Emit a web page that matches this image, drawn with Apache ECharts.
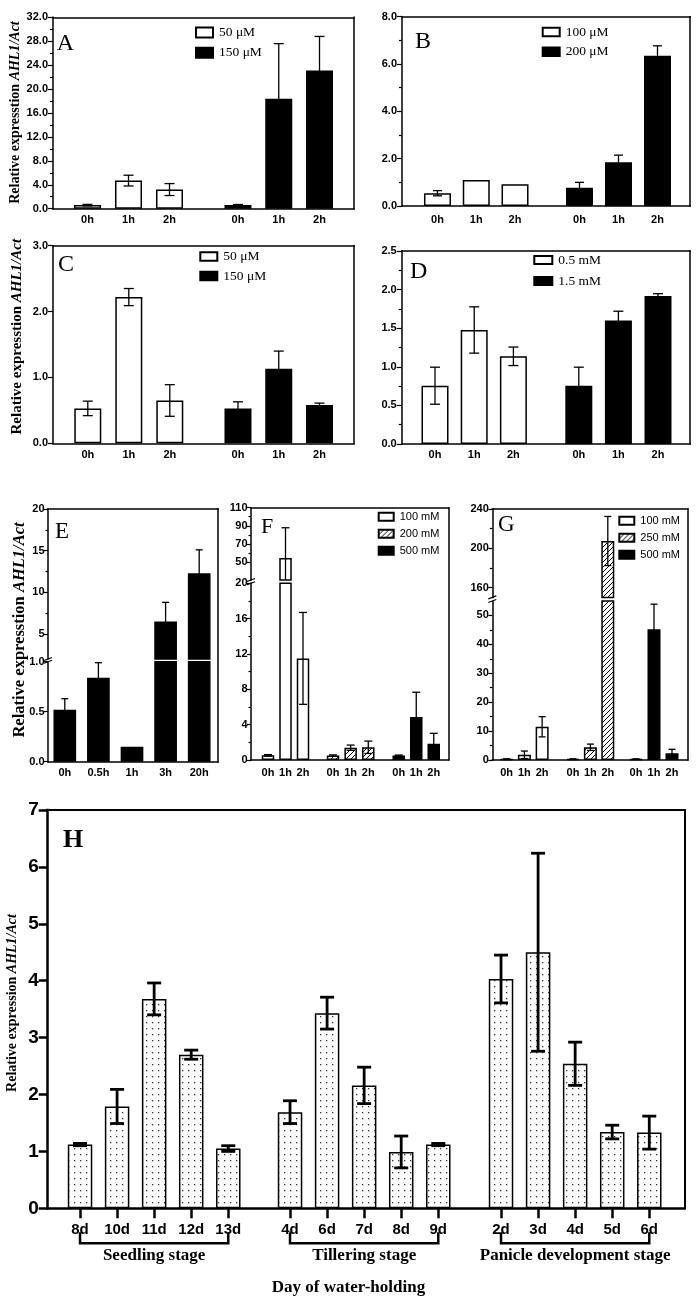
<!DOCTYPE html>
<html><head><meta charset="utf-8">
<script src="https://cdn.jsdelivr.net/npm/echarts@6/dist/echarts.min.js"></script>
<style>html,body{margin:0;padding:0;background:#fff}#c{width:697px;height:1308px}</style>
</head><body><div id="c"></div>
<script>
// ================= DATA =================
const hoursABCD = ['0h', '1h', '2h'];
// Panel A
const aNames = ['50 μM', '150 μM'];
const aMeanLow = [0.6, 4.7, 3.2];
const aSdLow = [0.12, 0.9, 1.0];
const aMeanHigh = [0.6, 18.4, 23.1];
const aSdHigh = [0.1, 9.2, 5.7];
const aTicks = [0, 4, 8, 12, 16, 20, 24, 28, 32];
const aMinorTicks = [2, 6, 10, 14, 18, 22, 26, 30];
// Panel B
const bNames = ['100 μM', '200 μM'];
const bMeanLow = [0.54, 1.1, 0.92];
const bSdLow = [0.11, 0, 0];
const bMeanHigh = [0.77, 1.85, 6.35];
const bSdHigh = [0.23, 0.3, 0.42];
const bTicks = [0, 2, 4, 6, 8];
const bMinorTicks = [1, 3, 5, 7];
// Panel C
const cNames = ['50 μM', '150 μM'];
const cMeanLow = [0.53, 2.22, 0.65];
const cSdLow = [0.11, 0.13, 0.24];
const cMeanHigh = [0.53, 1.13, 0.58];
const cSdHigh = [0.1, 0.27, 0.03];
const cTicks = [0, 1, 2, 3];
// Panel D
const dNames = ['0.5 mM', '1.5 mM'];
const dMeanLow = [0.755, 1.477, 1.136];
const dSdLow = [0.24, 0.3, 0.12];
const dMeanHigh = [0.755, 1.6, 1.917];
const dSdHigh = [0.24, 0.12, 0.03];
const dTicks = [0, 0.5, 1, 1.5, 2, 2.5];
const dMinorTicks = [0.25, 0.75, 1.25, 1.75, 2.25];
// Panel E (broken axis)
const eTimes = ['0h', '0.5h', '1h', '3h', '20h'];
const eMean = [0.52, 0.84, 0.15, 6.5, 12.3];
const eSd = [0.11, 0.15, 0, 2.3, 2.8];
const eTicksLow = [0, 0.5, 1];
const eTicksHigh = [5, 10, 15, 20];
const eMinorHigh = [7.5, 12.5, 17.5];
// Panel F (broken axis)
const fNames = ['100 mM', '200 mM', '500 mM'];
const fMean100 = [0.53, 54.4, 11.5];
const fSd100 = [0.08, 33.4, 5.2];
const fMean200 = [0.5, 1.39, 1.44];
const fSd200 = [0.08, 0.3, 0.7];
const fMean500 = [0.5, 4.87, 1.85];
const fSd500 = [0.06, 2.8, 1.17];
const fTicksLow = [0, 4, 8, 12, 16, 20];
const fMinorLow = [2, 6, 10, 14, 18];
const fTicksHigh = [50, 70, 90, 110];
const fMinorHigh = [60, 80, 100];
// Panel G (broken axis)
const gNames = ['100 mM', '250 mM', '500 mM'];
const gMean100 = [0.3, 1.8, 11.5];
const gSd100 = [0.1, 1.3, 3.5];
const gMean250 = [0.3, 4.4, 207.4];
const gSd250 = [0.1, 1.1, 25];
const gMean500 = [0.3, 45.2, 2.3];
const gSd500 = [0.1, 8.7, 1.4];
const gTicksLow = [0, 10, 20, 30, 40, 50];
const gMinorLow = [5, 15, 25, 35, 45];
const gTicksHigh = [160, 200, 240];
const gMinorHigh = [180, 220];
// Panel H
const hStages = ['Seedling stage', 'Tillering stage', 'Panicle development stage'];
const hDaysSeedling = ['8d', '10d', '11d', '12d', '13d'];
const hDaysTillering = ['4d', '6d', '7d', '8d', '9d'];
const hDaysPanicle = ['2d', '3d', '4d', '5d', '6d'];
const hMeanSeedling = [1.12, 1.79, 3.68, 2.70, 1.05];
const hSdSeedling = [0.02, 0.3, 0.28, 0.08, 0.05];
const hMeanTillering = [1.69, 3.43, 2.16, 0.99, 1.12];
const hSdTillering = [0.2, 0.28, 0.32, 0.28, 0.02];
const hMeanPanicle = [4.03, 4.50, 2.54, 1.34, 1.33];
const hSdPanicle = [0.42, 1.74, 0.38, 0.12, 0.29];
const hTicks = [0, 1, 2, 3, 4, 5, 6, 7];
const hXTitle = 'Day of water-holding';
const yTitleABCE = 'Relative expresstion';
const yTitleH = 'Relative expression';
const yTitleItalic = 'AHL1/Act';

// ================= STYLE HELPERS =================
const SANS = '"Liberation Sans", Arial, sans-serif';
const SERIF = '"Liberation Serif", "Times New Roman", serif';
const WHITE = '#ffffff', BLACK = '#000000';

function makeHatch() {
  const c = document.createElement('canvas'); c.width = 5; c.height = 5;
  const g = c.getContext('2d');
  g.fillStyle = '#fff'; g.fillRect(0, 0, 5, 5);
  g.strokeStyle = '#000'; g.lineWidth = 1;
  g.beginPath();
  g.moveTo(-1, 6); g.lineTo(6, -1);
  g.moveTo(-1, 1); g.lineTo(1, -1);
  g.moveTo(4, 6); g.lineTo(6, 4);
  g.stroke();
  return c;
}
function makeDots() {
  const c = document.createElement('canvas'); c.width = 6; c.height = 6;
  const g = c.getContext('2d');
  g.fillStyle = '#fff'; g.fillRect(0, 0, 6, 6);
  g.fillStyle = '#333'; g.fillRect(2, 2, 1.3, 1.3);
  return c;
}
const HATCH = { image: makeHatch(), repeat: 'repeat' };
const DOTS = { image: makeDots(), repeat: 'repeat' };

const opt = { animation: false, backgroundColor: '#ffffff', grid: [], xAxis: [], yAxis: [], series: [], legend: [], title: [], graphic: { elements: [] } };

function grid(l, t, r, b) {
  opt.grid.push({ left: l, top: t, width: r - l, height: b - t, show: false, containLabel: false, outerBoundsMode: 'none' });
  return opt.grid.length - 1;
}
function axX(o) { opt.xAxis.push(o); return opt.xAxis.length - 1; }
function axY(o) { opt.yAxis.push(o); return opt.yAxis.length - 1; }
const OFF = { axisTick: { show: false }, axisLabel: { show: false }, splitLine: { show: false } };
function lineStyle(w) { return { show: true, onZero: false, lineStyle: { color: '#000', width: w, cap: 'square' } }; }

function frameLines(gi, st) {
  axX(Object.assign({ type: 'value', gridIndex: gi, min: 0, max: 1, position: 'bottom', axisLine: lineStyle(st.axisW) }, OFF));
  axX(Object.assign({ type: 'value', gridIndex: gi, min: 0, max: 1, position: 'top', axisLine: lineStyle(st.frameW) }, OFF));
  axY(Object.assign({ type: 'value', gridIndex: gi, min: 0, max: 1, position: 'right', axisLine: lineStyle(st.frameW) }, OFF));
}

function segAxis(fr, seg, st) {
  const gi = grid(fr[0], seg.t, fr[2], seg.b);
  axX({ type: 'value', gridIndex: gi, min: 0, max: 1, show: false });
  axY({
    type: 'value', gridIndex: gi, min: seg.min, max: seg.max, position: 'left',
    axisLine: lineStyle(st.axisW),
    axisTick: { show: true, length: st.tickLen, customValues: seg.major, lineStyle: { color: '#000', width: st.tickW } },
    axisLabel: { show: true, customValues: seg.major, margin: st.labMargin, formatter: v => Number(v).toFixed(seg.dec),
      color: '#000', fontFamily: SANS, fontWeight: 'bold', fontSize: st.labSize },
    splitLine: { show: false }
  });
  if (seg.minor && seg.minor.length) {
    axY({
      type: 'value', gridIndex: gi, min: seg.min, max: seg.max, position: 'left',
      axisLine: { show: false },
      axisTick: { show: true, length: st.minorLen, customValues: seg.minor, lineStyle: { color: '#000', width: st.tickW } },
      axisLabel: { show: false }, splitLine: { show: false }
    });
  }
}

function errRender(lo, hi, cap, lw) {
  return function (params, api) {
    const i = api.value(0), m = api.value(1), s = api.value(2);
    if (!(s > 0)) return { type: 'group', children: [] };
    const top = m + s, bot = m - s;
    const t = Math.min(top, hi), b = Math.max(bot, lo);
    if (t <= b) return { type: 'group', children: [] };
    const pt = api.coord([i, t]), pb = api.coord([i, b]);
    const sty = { stroke: '#000', lineWidth: lw };
    const ch = [{ type: 'line', shape: { x1: pt[0], y1: pt[1], x2: pb[0], y2: pb[1] }, style: sty }];
    if (top <= hi) ch.push({ type: 'line', shape: { x1: pt[0] - cap, y1: pt[1], x2: pt[0] + cap, y2: pt[1] }, style: sty });
    if (bot >= lo) ch.push({ type: 'line', shape: { x1: pb[0] - cap, y1: pb[1], x2: pb[0] + cap, y2: pb[1] }, style: sty });
    return { type: 'group', children: ch };
  };
}

function dataGroup(seg, g, isBottom, st) {
  const gi = grid(g.l, seg.t, g.r, seg.b);
  const xi = axX({
    type: 'category', gridIndex: gi, data: g.cats, boundaryGap: true,
    axisLine: { show: false },
    axisTick: (isBottom && st.xTick) ? { show: true, alignWithLabel: true, length: st.xTick.len, lineStyle: { color: '#000', width: st.xTick.w } } : { show: false },
    axisLabel: isBottom ? { show: true, interval: 0, margin: st.xLabMargin, color: '#000', fontFamily: SANS, fontWeight: 'bold', fontSize: st.xLabSize } : { show: false },
    splitLine: { show: false }
  });
  const yi = axY({ type: 'value', gridIndex: gi, min: seg.min, max: seg.max, show: false });
  opt.series.push({
    type: 'bar', name: g.name, xAxisIndex: xi, yAxisIndex: yi, data: g.mean, barWidth: st.barW, clip: true, silent: true,
    itemStyle: { color: g.fill, borderColor: '#000', borderWidth: st.barBorder }
  });
  opt.series.push({
    type: 'custom', xAxisIndex: xi, yAxisIndex: yi, data: g.mean.map((m, i) => [i, m, g.sd[i]]),
    renderItem: errRender(seg.min, seg.max, st.cap, st.errW), clip: false, silent: true, z: 3
  });
  if (isBottom && g.stage) {
    axX({ type: 'category', gridIndex: gi, data: [g.stage], position: 'bottom', offset: 31,
      axisLine: { show: false }, axisTick: { show: false }, splitLine: { show: false },
      axisLabel: { show: true, margin: 8, color: '#000', fontFamily: SERIF, fontWeight: 'bold', fontSize: 17 } });
    const last = g.cats.length - 1;
    opt.series.push({
      type: 'custom', xAxisIndex: xi, yAxisIndex: yi, data: [[0, 0]], clip: false, silent: true,
      renderItem: function (params, api) {
        const p0 = api.coord([0, seg.min]), p1 = api.coord([last, seg.min]);
        const y0 = p0[1] + 24, y1 = p0[1] + 35;
        return { type: 'polyline', shape: { points: [[p0[0], y0], [p0[0], y1], [p1[0], y1], [p1[0], y0]] },
          style: { stroke: '#000', lineWidth: 2.5, fill: 'none' } };
      }
    });
  }
}

function yTitle(x, y, size, word) {
  opt.graphic.elements.push({
    type: 'text', x: x, y: y, rotation: Math.PI / 2, z: 100, silent: true,
    style: {
      text: '{b|' + word + ' }{i|' + yTitleItalic + '}',
      rich: { b: { font: 'bold ' + size + 'px ' + SERIF, fill: '#000' }, i: { font: 'italic bold ' + size + 'px ' + SERIF, fill: '#000' } },
      align: 'center', verticalAlign: 'middle', textAlign: 'center', textVerticalAlign: 'middle', fill: '#000'
    }
  });
}
function letter(t, x, y, size, bold) {
  opt.graphic.elements.push({
    type: 'text', x: x, y: y, z: 100, silent: true,
    style: { text: t, font: (bold ? 'bold ' : '') + size + 'px ' + SERIF, fill: '#000', align: 'left', verticalAlign: 'middle', textAlign: 'left', textVerticalAlign: 'middle' }
  });
}
function legend(names, left, top, w, h, gap, font, size) {
  opt.legend.push({
    orient: 'vertical', left: left, top: top, itemWidth: w, itemHeight: h, itemGap: gap, padding: 0, selectedMode: false,
    data: names.map(n => ({ name: n, icon: 'rect' })),
    textStyle: { fontFamily: font, fontSize: size, color: '#000', padding: [0, 0, 0, 1] }
  });
}

function buildPanel(p) {
  const st = p.style, fr = p.frame;
  const fg = grid(fr[0], fr[1], fr[2], fr[3]);
  frameLines(fg, st);
  p.segs.forEach((seg, si) => {
    segAxis(fr, seg, st);
    const isBottom = si === p.segs.length - 1;
    p.groups.forEach(g => dataGroup(seg, g, isBottom, st));
  });
  for (let si = 0; si < p.segs.length - 1; si++) {
    [p.segs[si].b, p.segs[si + 1].t].forEach(y => {
      opt.graphic.elements.push({ type: 'line', z: 100, silent: true,
        shape: { x1: fr[0] - 4, y1: y + 1.5, x2: fr[0] + 4, y2: y - 1.5 }, style: { stroke: '#000', lineWidth: 1.2 } });
    });
  }
}

// ================= LAYOUT =================
const stAD = { axisW: 1.5, frameW: 1.5, tickLen: 5, minorLen: 3, tickW: 1.2, labSize: 11, labMargin: 5, barW: 27, barBorder: 1.5, cap: 5, errW: 1.3, xLabSize: 11, xLabMargin: 6 };
const stE = Object.assign({}, stAD, { tickLen: 4, minorLen: 2.5, labMargin: 3.5, barW: 22.7, cap: 3.5, xLabMargin: 6 });
const stFG = Object.assign({}, stAD, { tickLen: 4, minorLen: 2.5, labMargin: 3.5, barW: 12.5, cap: 4, xLabMargin: 7 });
const stH = { axisW: 2.5, frameW: 2, tickLen: 9, minorLen: 5, tickW: 2.5, labSize: 19, labMargin: 9, barW: 24.5, barBorder: 1.5, cap: 7, errW: 2.8, xLabSize: 15, xLabMargin: 14, xTick: { len: 10, w: 2.5 } };

buildPanel({ style: stAD, frame: [53, 17.3, 354, 208.7],
  segs: [{ t: 17.3, b: 208.7, min: 0, max: 32, major: aTicks, minor: aMinorTicks, dec: 1 }],
  groups: [{ l: 67, r: 190, cats: hoursABCD, name: aNames[0], mean: aMeanLow, sd: aSdLow, fill: WHITE },
           { l: 217.6, r: 339.9, cats: hoursABCD, name: aNames[1], mean: aMeanHigh, sd: aSdHigh, fill: BLACK }] });
buildPanel({ style: Object.assign({}, stAD, { cap: 4.5, xLabMargin: 8 }), frame: [402, 16.7, 690, 206],
  segs: [{ t: 16.7, b: 206, min: 0, max: 8, major: bTicks, minor: bMinorTicks, dec: 1 }],
  groups: [{ l: 418.1, r: 534.4, cats: hoursABCD, name: bNames[0], mean: bMeanLow, sd: bSdLow, fill: WHITE },
           { l: 560, r: 677, cats: hoursABCD, name: bNames[1], mean: bMeanHigh, sd: bSdHigh, fill: BLACK }] });
buildPanel({ style: stAD, frame: [53, 245.7, 354, 443.3],
  segs: [{ t: 245.7, b: 443.3, min: 0, max: 3, major: cTicks, minor: [], dec: 1 }],
  groups: [{ l: 67.3, r: 190.3, cats: hoursABCD, name: cNames[0], mean: cMeanLow, sd: cSdLow, fill: WHITE },
           { l: 217.6, r: 339.9, cats: hoursABCD, name: cNames[1], mean: cMeanHigh, sd: cSdHigh, fill: BLACK }] });
buildPanel({ style: Object.assign({}, stAD, { xLabMargin: 5.5 }), frame: [401.7, 251, 690, 444],
  segs: [{ t: 251, b: 444, min: 0, max: 2.5, major: dTicks, minor: dMinorTicks, dec: 1 }],
  groups: [{ l: 415.4, r: 533, cats: hoursABCD, name: dNames[0], mean: dMeanLow, sd: dSdLow, fill: WHITE },
           { l: 559, r: 677.8, cats: hoursABCD, name: dNames[1], mean: dMeanHigh, sd: dSdHigh, fill: BLACK }] });
buildPanel({ style: stE, frame: [48, 509, 218, 761.7],
  segs: [{ t: 509, b: 659, min: 2, max: 20, major: eTicksHigh, minor: eMinorHigh, dec: 0 },
         { t: 661.7, b: 761.7, min: 0, max: 1, major: eTicksLow, minor: [], dec: 1 }],
  groups: [{ l: 48, r: 216, cats: eTimes, name: 'E', mean: eMean, sd: eSd, fill: BLACK }] });
buildPanel({ style: stFG, frame: [251, 507.7, 448.3, 760],
  segs: [{ t: 507.7, b: 580, min: 30, max: 110, major: fTicksHigh, minor: fMinorHigh, dec: 0 },
         { t: 583.3, b: 760, min: 0, max: 20, major: fTicksLow, minor: fMinorLow, dec: 0 }],
  groups: [{ l: 259.25, r: 311.75, cats: hoursABCD, name: fNames[0], mean: fMean100, sd: fSd100, fill: WHITE },
           { l: 324.2, r: 377.1, cats: hoursABCD, name: fNames[1], mean: fMean200, sd: fSd200, fill: HATCH },
           { l: 390, r: 442.5, cats: hoursABCD, name: fNames[2], mean: fMean500, sd: fSd500, fill: BLACK }] });
buildPanel({ style: Object.assign({}, stFG, { barW: 13, cap: 3.5 }), frame: [492.3, 509, 687.7, 760],
  segs: [{ t: 509, b: 597.4, min: 150, max: 240, major: gTicksHigh, minor: gMinorHigh, dec: 0 },
         { t: 601, b: 760, min: 0, max: 55, major: gTicksLow, minor: gMinorLow, dec: 0 }],
  groups: [{ l: 497.8, r: 551, cats: hoursABCD, name: gNames[0], mean: gMean100, sd: gSd100, fill: WHITE },
           { l: 564.3, r: 616.5, cats: hoursABCD, name: gNames[1], mean: gMean250, sd: gSd250, fill: HATCH },
           { l: 627, r: 681, cats: hoursABCD, name: gNames[2], mean: gMean500, sd: gSd500, fill: BLACK }] });
buildPanel({ style: stH, frame: [47.7, 810, 684.3, 1208.3],
  segs: [{ t: 810, b: 1208.3, min: 0, max: 7, major: hTicks, minor: [], dec: 0 }],
  groups: [{ l: 61.5, r: 246.8, cats: hDaysSeedling, name: 'H1', mean: hMeanSeedling, sd: hSdSeedling, fill: DOTS, stage: hStages[0] },
           { l: 271.5, r: 456.8, cats: hDaysTillering, name: 'H2', mean: hMeanTillering, sd: hSdTillering, fill: DOTS, stage: hStages[1] },
           { l: 482.5, r: 667.8, cats: hDaysPanicle, name: 'H3', mean: hMeanPanicle, sd: hSdPanicle, fill: DOTS, stage: hStages[2] }] });

legend(aNames, 195, 25.5, 17, 10, 6.2, SERIF, 13.5);
legend(bNames, 541.7, 25, 17, 8.5, 5.8, SERIF, 13.5);
legend(cNames, 199.3, 249.6, 17, 8.5, 5.5, SERIF, 13.5);
legend(dNames, 533.3, 253, 18, 8, 7.1, SERIF, 13.5);
legend(fNames, 377.7, 511.2, 15, 8, 6, SANS, 11);
legend(gNames, 618.3, 515.2, 15, 8, 6, SANS, 11);

letter('A', 56.7, 43.3, 24, false);
letter('B', 415, 41.7, 24, false);
letter('C', 58, 265, 24, false);
letter('D', 410, 271.7, 24, false);
letter('E', 55, 531.7, 23, false);
letter('F', 261, 527, 22, false);
letter('G', 498, 525, 23, false);
letter('H', 63, 840, 26, true);

yTitle(15, 112.5, 14, yTitleABCE);
yTitle(17, 336.7, 15, yTitleABCE);
yTitle(20, 630, 16.5, yTitleABCE);
yTitle(12, 1003, 14, yTitleH);

opt.title.push({ text: hXTitle, left: 'center', top: 1279, padding: 0,
  textStyle: { fontFamily: SERIF, fontWeight: 'bold', fontSize: 17, color: '#000' } });

const chart = echarts.init(document.getElementById('c'), null, { renderer: 'canvas' });
chart.setOption(opt);
</script></body></html>
